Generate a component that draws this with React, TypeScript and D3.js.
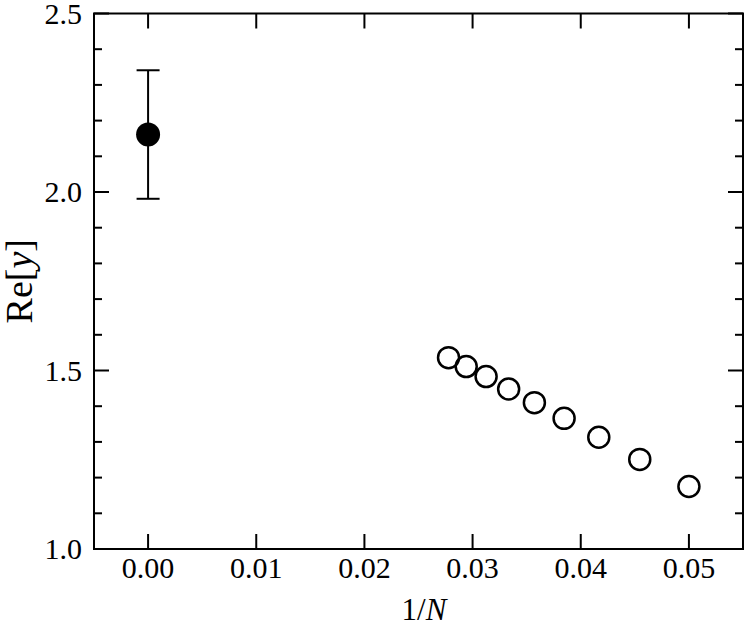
import React from "react";
import * as d3 from "d3";

const invN = [0.05, 1 / 22, 1 / 24, 1 / 26, 1 / 28, 1 / 30, 1 / 32, 1 / 34, 1 / 36];
const reY = [1.175, 1.251, 1.313, 1.366, 1.41, 1.448, 1.483, 1.511, 1.536];
const extrapX = [0.0];
const extrapY = [2.161];
const extrapErr = [0.18];
const xTicks = [0.0, 0.01, 0.02, 0.03, 0.04, 0.05];
const yMajor = [1.0, 1.5, 2.0, 2.5];
const yMinor = [1.1, 1.2, 1.3, 1.4, 1.6, 1.7, 1.8, 1.9, 2.1, 2.2, 2.3, 2.4];

const W = 747, H = 641;
const L = 94, R = 743, T = 13.5, B = 549;
const FONT = "'Liberation Serif', 'Times New Roman', serif";

export default function App() {
  const x = d3.scaleLinear().domain([-0.005, 0.055]).range([L, R]);
  const y = d3.scaleLinear().domain([1.0, 2.5]).range([B, T]);
  const major = 15, minor = 8;
  return (
    <svg width={W} height={H} style={{ position: "absolute", left: 0, top: 0 }}>
      <rect x={0} y={0} width={W} height={H} fill="white" />
      {/* ticks */}
      <g stroke="black" strokeWidth={2}>
        {xTicks.map((t) => (
          <g key={"x" + t}>
            <line x1={x(t)} x2={x(t)} y1={B} y2={B - major} />
            <line x1={x(t)} x2={x(t)} y1={T} y2={T + major} />
          </g>
        ))}
        {yMajor.map((t) => (
          <g key={"y" + t}>
            <line x1={L} x2={L + major} y1={y(t)} y2={y(t)} />
            <line x1={R} x2={R - major} y1={y(t)} y2={y(t)} />
          </g>
        ))}
        {yMinor.map((t) => (
          <g key={"ym" + t}>
            <line x1={L} x2={L + minor} y1={y(t)} y2={y(t)} />
            <line x1={R} x2={R - minor} y1={y(t)} y2={y(t)} />
          </g>
        ))}
      </g>
      <rect x={L} y={T} width={R - L} height={B - T} fill="none" stroke="black" strokeWidth={2} />
      {/* tick labels */}
      <g fontFamily={FONT} fontSize={30} fill="black">
        {xTicks.map((t) => (
          <text key={"xl" + t} x={x(t)} y={578} textAnchor="middle">
            {d3.format(".2f")(t)}
          </text>
        ))}
        {yMajor.map((t) => (
          <text key={"yl" + t} x={L - 12} y={y(t)} dy="0.34em" textAnchor="end">
            {d3.format(".1f")(t)}
          </text>
        ))}
      </g>
      {/* axis titles */}
      <text x={424} y={620} textAnchor="middle" fontFamily={FONT} fontSize={31}>
        1/<tspan fontStyle="italic">N</tspan>
      </text>
      <text
        transform={`translate(31.5, ${(T + B) / 2}) rotate(-90)`}
        textAnchor="middle"
        fontFamily={FONT}
        fontSize={38}
      >
        Re[<tspan fontStyle="italic">y</tspan>]
      </text>
      {/* extrapolated point with error bar */}
      {extrapX.map((v, i) => (
        <g key={"e" + i} stroke="black" strokeWidth={2}>
          <line x1={x(v)} x2={x(v)} y1={y(extrapY[i] + extrapErr[i])} y2={y(extrapY[i] - extrapErr[i])} />
          <line x1={x(v) - 11.5} x2={x(v) + 11.5} y1={y(extrapY[i] + extrapErr[i])} y2={y(extrapY[i] + extrapErr[i])} />
          <line x1={x(v) - 11.5} x2={x(v) + 11.5} y1={y(extrapY[i] - extrapErr[i])} y2={y(extrapY[i] - extrapErr[i])} />
          <circle cx={x(v)} cy={y(extrapY[i])} r={12} fill="black" stroke="none" />
        </g>
      ))}
      {/* open circles */}
      {invN.map((v, i) => (
        <circle key={"p" + i} cx={x(v)} cy={y(reY[i])} r={10.5} fill="none" stroke="black" strokeWidth={2.5} />
      ))}
    </svg>
  );
}
